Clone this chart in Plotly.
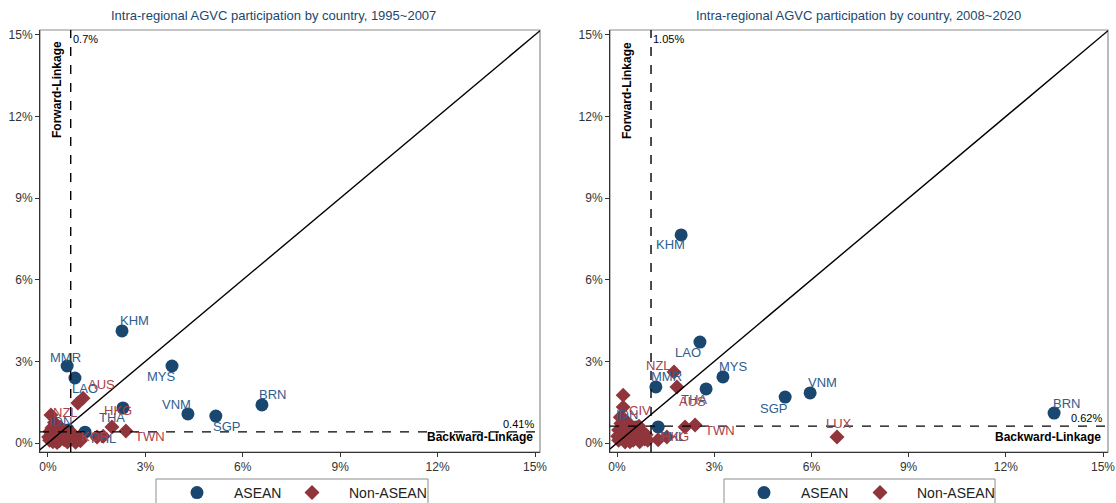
import plotly.graph_objects as go

NAVY = "#1a476f"
MAROON = "#90353b"
NAVY_TXT = "#2f5e8e"
MAROON_TXT = "#a8424a"
FONT = "Arial, Liberation Sans, sans-serif"

# ---------------- 1995~2007 (backward-linkage x, forward-linkage y, in %) ----------------
asean_code_95 = ["KHM", "MMR", "LAO", "MYS", "BRN", "VNM", "SGP", "THA", "PHL", "IDN"]
asean_back_95 = [2.28, 0.59, 0.83, 3.82, 6.59, 4.31, 5.17, 2.31, 1.14, 0.62]
asean_fwd_95 = [4.12, 2.83, 2.39, 2.83, 1.40, 1.07, 0.99, 1.29, 0.40, 0.48]

other_code_95 = ["AUS", "NZL", "HKG", "TWN", "KOR"] + [""] * 31
other_back_95 = [1.08, 0.09, 1.97, 2.40, 0.89,
                 0.92, 1.51, 1.70, 0.20, 0.05, 0.10, 0.15, 0.20, 0.25, 0.30, 0.35,
                 0.40, 0.45, 0.50, 0.55, 0.60, 0.65, 0.12, 0.06, 0.28, 0.72, 0.78,
                 0.85, 0.95, 0.18, 0.38, 0.22, 0.48, 1.00, 0.02, 0.32]
other_fwd_95 = [1.65, 1.03, 0.59, 0.44, 0.11,
                1.47, 0.22, 0.25, 0.75, 0.10, 0.28, 0.05, 0.38, 0.15, 0.52, 0.08,
                0.30, 0.20, 0.12, 0.42, 0.04, 0.25, 0.55, 0.42, 0.02, 0.15, 0.32,
                0.03, 0.20, 0.62, 0.58, 0.20, 0.33, 0.08, 0.22, 0.30]

# ---------------- 2008~2020 ----------------
asean_code_08 = ["KHM", "LAO", "MYS", "MMR", "THA", "SGP", "VNM", "BRN", "PHL", "IDN"]
asean_back_08 = [1.98, 2.56, 3.27, 1.20, 2.75, 5.19, 5.96, 13.49, 1.27, 0.62]
asean_fwd_08 = [7.65, 3.71, 2.43, 2.06, 1.99, 1.69, 1.84, 1.10, 0.59, 0.59]

other_code_08 = ["NZL", "AUS", "CIV", "TWN", "LUX", "HKG"] + [""] * 32
other_back_08 = [1.76, 1.85, 0.19, 2.41, 6.79, 1.54,
                 0.19, 2.10, 1.27, 0.10, 0.25, 0.05, 0.10, 0.15, 0.20, 0.25, 0.30,
                 0.35, 0.40, 0.45, 0.50, 0.55, 0.60, 0.65, 0.70, 0.75, 0.80, 0.85,
                 0.90, 0.12, 0.30, 0.05, 0.40, 0.55, 0.95, 0.68, 0.02, 0.20]
other_fwd_08 = [2.61, 2.06, 1.32, 0.66, 0.22, 0.22,
                1.76, 0.59, 0.12, 0.95, 0.85, 0.10, 0.30, 0.55, 0.20, 0.04, 0.40,
                0.15, 0.30, 0.62, 0.10, 0.35, 0.20, 0.45, 0.05, 0.25, 0.40, 0.15,
                0.30, 0.72, 0.68, 0.48, 0.05, 0.55, 0.10, 0.62, 0.25, 0.42]

# Threshold lines (averages) per period
thr_back_95, thr_fwd_95 = 0.70, 0.41
thr_back_08, thr_fwd_08 = 1.05, 0.62

tick_vals = [0, 3, 6, 9, 12, 15]

# Label offsets in pixels (dx right, dy down) relative to the marker
label_off_95 = {
    "KHM": (12, -10), "MMR": (-2, -9), "LAO": (10, 11), "MYS": (-11, 10),
    "BRN": (11, -10), "VNM": (-11, -9), "SGP": (11, 10), "THA": (-11, 10),
    "PHL": (18, 6), "IDN": (-7, -8), "AUS": (18, -14), "NZL": (15, -3),
    "HKG": (6, -16), "TWN": (24, 5), "KOR": (18, -4),
}
label_off_08 = {
    "KHM": (-11, 10), "LAO": (-12, 10), "MYS": (11, -10), "MMR": (11, -10),
    "THA": (-12, 11), "SGP": (-12, 11), "VNM": (12, -10), "BRN": (12, -10),
    "PHL": (14, 10), "IDN": (-10, -12), "AUS": (16, 15), "NZL": (-16, -7),
    "CIV": (17, 3), "TWN": (25, 5), "LUX": (2, -14), "HKG": (8, -1),
}

W, H = 1116, 503


def px_x(p):
    return p / W


def px_y(p):
    return 1 - p / H


fig = go.Figure()

# (x axis, y axis, legend for ASEAN, legend for Non-ASEAN, data...)
panels = [
    ("x", "y", "legend", "legend3", asean_back_95, asean_fwd_95, asean_code_95,
     other_back_95, other_fwd_95, other_code_95, label_off_95),
    ("x2", "y2", "legend2", "legend4", asean_back_08, asean_fwd_08, asean_code_08,
     other_back_08, other_fwd_08, other_code_08, label_off_08),
]

annotations = []
for xa, ya, lg_a, lg_o, ab, af, ac, ob, of, oc, offs in panels:
    fig.add_trace(go.Scatter(
        x=ab, y=af, mode="markers", name="ASEAN", xaxis=xa, yaxis=ya, legend=lg_a,
        marker=dict(symbol="circle", size=13, color=NAVY, line=dict(width=0)),
        hoverinfo="skip"))
    fig.add_trace(go.Scatter(
        x=ob, y=of, mode="markers", name="Non-ASEAN", xaxis=xa, yaxis=ya, legend=lg_o,
        marker=dict(symbol="diamond", size=11.5, color=MAROON, line=dict(width=0)),
        hoverinfo="skip"))
    for xs, ys, cs, col in ((ab, af, ac, NAVY_TXT), (ob, of, oc, MAROON_TXT)):
        for xv, yv, c in zip(xs, ys, cs):
            if not c:
                continue
            dx, dy = offs.get(c, (12, -10))
            annotations.append(dict(
                x=xv, y=yv, xref=xa, yref=ya, text=c, showarrow=False,
                xshift=dx, yshift=-dy, xanchor="center", yanchor="middle",
                font=dict(family=FONT, size=13, color=col)))

shapes = []
for xa, ya, tb, tf, xmin, fl_x in (("x", "y", thr_back_95, thr_fwd_95, -0.246, 57),
                                   ("x2", "y2", thr_back_08, thr_fwd_08, -0.216, 627)):
    dom_x = xa + " domain"
    dom_y = ya + " domain"
    # 45-degree line
    shapes.append(dict(type="line", xref=xa, yref=ya, x0=xmin, y0=xmin, x1=15.154, y1=15.154,
                       line=dict(color="black", width=1.4)))
    # Threshold lines
    shapes.append(dict(type="line", xref=xa, yref=dom_y, x0=tb, x1=tb, y0=0, y1=1,
                       line=dict(color="black", width=1.4, dash="dash")))
    shapes.append(dict(type="line", xref=dom_x, yref=ya, x0=0, x1=1, y0=tf, y1=tf,
                       line=dict(color="black", width=1.4, dash="dash")))
    # Plot frame
    shapes.append(dict(type="rect", xref=dom_x, yref=dom_y, x0=0, x1=1, y0=0, y1=1,
                       line=dict(color="#8c8c8c", width=1.2), layer="below"))

    annotations += [
        dict(xref="paper", yref="paper", x=px_x(fl_x), y=px_y(90), text="<b>Forward-Linkage</b>",
             textangle=-90, xanchor="center", yanchor="middle", showarrow=False,
             font=dict(family=FONT, size=12, color="black")),
        dict(xref=dom_x, yref=dom_y, x=1, y=0, xanchor="right", yanchor="bottom",
             xshift=-5, yshift=6, text="<b>Backward-Linkage</b>", showarrow=False,
             font=dict(family=FONT, size=12, color="black")),
        dict(xref=xa, yref=dom_y, x=tb, y=1, xanchor="left", yanchor="top",
             xshift=0, yshift=-1, text=f"{tb:g}%", showarrow=False,
             font=dict(family=FONT, size=11, color="black")),
        dict(xref=dom_x, yref=ya, x=1, y=tf, xanchor="right", yanchor="bottom",
             xshift=-4, yshift=0, text=f"{tf:g}%", showarrow=False,
             font=dict(family=FONT, size=11, color="black")),
    ]

annotations += [
    dict(xref="paper", yref="paper", x=px_x(273), y=px_y(15),
         text="Intra-regional AGVC participation by country, 1995~2007",
         showarrow=False, xanchor="center", yanchor="middle",
         font=dict(family=FONT, size=13, color=NAVY)),
    dict(xref="paper", yref="paper", x=px_x(858), y=px_y(15),
         text="Intra-regional AGVC participation by country, 2008~2020",
         showarrow=False, xanchor="center", yanchor="middle",
         font=dict(family=FONT, size=13, color=NAVY)),
]

# Legend boxes (drawn as shapes so the frame has a fixed size)
for x0, x1 in ((156, 428), (724, 995)):
    shapes.append(dict(type="rect", xref="paper", yref="paper",
                       x0=px_x(x0), x1=px_x(x1), y0=px_y(479), y1=px_y(520),
                       line=dict(color="#8c8c8c", width=1), fillcolor="white", layer="below"))

axis_common = dict(
    tickvals=tick_vals, ticktext=[f"{v}%" for v in tick_vals], ticks="outside",
    ticklen=4, tickcolor="#333", tickwidth=1, showgrid=False, zeroline=False,
    showline=True, linecolor="#333", linewidth=1,
    tickfont=dict(family=FONT, size=12, color="#333"), fixedrange=True,
)

legend_common = dict(
    orientation="h", xanchor="left", yanchor="top", y=px_y(477),
    borderwidth=0, bgcolor="rgba(0,0,0,0)", itemwidth=64,
    font=dict(family=FONT, size=14, color="#222"),
    itemclick=False, itemdoubleclick=False,
)

fig.update_layout(
    width=1116, height=503,
    margin=dict(l=0, r=0, t=0, b=0, autoexpand=False),
    paper_bgcolor="white", plot_bgcolor="white",
    xaxis=dict(domain=[px_x(40), px_x(540)], range=[-0.246, 15.154], anchor="y", **axis_common),
    yaxis=dict(domain=[px_y(452), px_y(30)], range=[-0.33, 15.18], anchor="x", **axis_common),
    xaxis2=dict(domain=[px_x(610), px_x(1108)], range=[-0.216, 15.154], anchor="y2", **axis_common),
    yaxis2=dict(domain=[px_y(452), px_y(30)], range=[-0.33, 15.18], anchor="x2", **axis_common),
    legend=dict(x=px_x(160), **legend_common),
    legend3=dict(x=px_x(275), **legend_common),
    legend2=dict(x=px_x(727), **legend_common),
    legend4=dict(x=px_x(843), **legend_common),
    shapes=shapes,
    annotations=annotations,
    showlegend=True,
)

fig.write_html("out.html")
